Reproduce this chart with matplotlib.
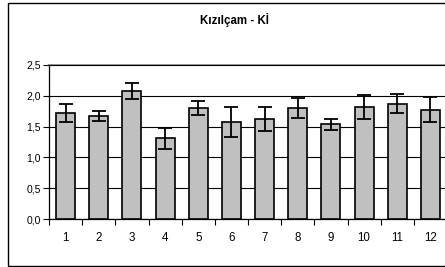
import numpy as np
import matplotlib
matplotlib.use('Agg')
import matplotlib.pyplot as plt
from matplotlib.patches import Rectangle

plt.rcParams['font.family'] = ['Liberation Sans', 'DejaVu Sans']

# Data.
categories = ['1', '2', '3', '4', '5', '6', '7', '8', '9', '10', '11', '12']
means = [1.72, 1.67, 2.08, 1.31, 1.80, 1.57, 1.62, 1.80, 1.54, 1.82, 1.87, 1.77]
errors = [0.15, 0.08, 0.13, 0.17, 0.11, 0.24, 0.19, 0.16, 0.09, 0.19, 0.15, 0.20]
yticks = [0.0, 0.5, 1.0, 1.5, 2.0, 2.5]
title = 'Kızılçam - Kİ'

W, H = 445, 267
fig = plt.figure(figsize=(W / 100, H / 100), dpi=100)

# Outer chart border (right edge runs off the picture).
fig.patches.append(Rectangle(
    (7.5 / W, 1.0 / H), 1.0, (264.0 - 1.0) / H,
    transform=fig.transFigure, fill=False,
    edgecolor='black', linewidth=1.0,
))

ax = fig.add_axes([49 / W, (H - 219.3) / H, (447 - 49) / W, (219.3 - 64.7) / H])

x = np.arange(1, len(categories) + 1)
ax.bar(
    x, means,
    width=0.57,
    color='#c0c0c0',
    edgecolor='black',
    linewidth=1.2,
    zorder=3,
)
ax.errorbar(
    x, means, yerr=errors,
    fmt='none',
    ecolor='black',
    elinewidth=1.3,
    capsize=5,
    capthick=1.3,
    zorder=4,
)

ax.set_xlim(0.5, len(categories) + 0.5)
ax.set_ylim(0, 2.5)
ax.set_yticks(yticks)
ax.set_yticklabels([('%.1f' % v).replace('.', ',') for v in yticks], fontsize=7.5)
ax.yaxis.grid(True, color='black', linewidth=0.8, zorder=0)

ax.set_xticks(x)
ax.set_xticklabels(categories, fontsize=8.3)
ax.set_xticks(np.arange(0.5, len(categories) + 1), minor=True)
ax.tick_params(axis='x', which='major', length=0, pad=9)
ax.tick_params(axis='x', which='minor', length=4, width=0.8, direction='out')
ax.tick_params(axis='y', length=4, width=0.8, direction='out', pad=2)

for side in ['top', 'right']:
    ax.spines[side].set_visible(False)
ax.spines['left'].set_linewidth(0.9)
ax.spines['bottom'].set_linewidth(0.9)
ax.axhline(2.5, color='#808080', linewidth=1.2, zorder=1, clip_on=False)

fig.text(234 / W, 1 - 19.5 / H, title, ha='center', va='center',
         fontsize=8.3, fontweight='bold')

fig.savefig('out.png', dpi=100)
